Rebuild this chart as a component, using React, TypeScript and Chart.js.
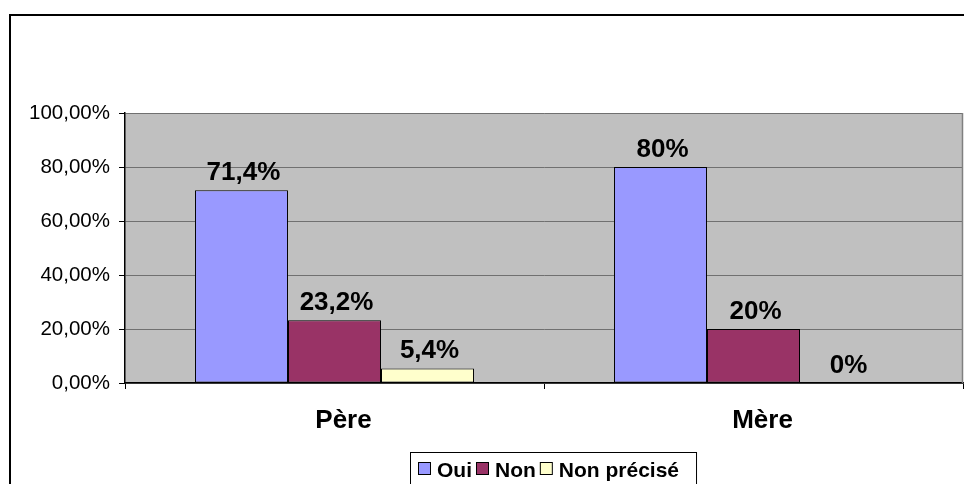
import React, { useEffect, useRef } from "react";
import { Chart, registerables } from "chart.js";

Chart.register(...registerables);

const categories = ["Père", "Mère"];
const seriesNames = ["Oui", "Non", "Non précisé"];
const oui = [71.4, 80];
const non = [23.2, 20];
const nonPrecise = [5.4, 0];
const yTicks = [0, 20, 40, 60, 80, 100];

const FONT = "'Liberation Sans', Arial, sans-serif";
const colors = ["#9999FF", "#993366", "#FFFFCC"];

const fmtLabel = (v: number) => String(v).replace(".", ",") + "%";
const fmtTick = (v: number) => v.toFixed(2).replace(".", ",") + "%";

const decorPlugin = {
  id: "decor",
  beforeDraw(chart: any) {
    const { ctx, chartArea: a } = chart;
    ctx.save();
    ctx.fillStyle = "#FFFFFF";
    ctx.fillRect(0, 0, chart.width, chart.height);
    ctx.fillStyle = "#C0C0C0";
    ctx.fillRect(a.left, a.top, a.right - a.left, a.bottom - a.top);
    ctx.restore();
  },
  afterDatasetsDraw(chart: any) {
    const { ctx, chartArea: a } = chart;
    ctx.save();
    // plot area right border
    ctx.strokeStyle = "#808080";
    ctx.lineWidth = 1.5;
    ctx.beginPath();
    ctx.moveTo(a.right - 0.5, a.top);
    ctx.lineTo(a.right - 0.5, a.bottom);
    ctx.stroke();
    // data labels
    ctx.fillStyle = "#000";
    ctx.font = "bold 26px " + FONT;
    ctx.textAlign = "center";
    ctx.textBaseline = "alphabetic";
    chart.data.datasets.forEach((ds: any, i: number) => {
      const meta = chart.getDatasetMeta(i);
      meta.data.forEach((bar: any, j: number) => {
        ctx.fillText(fmtLabel(ds.data[j]), bar.x + 2, bar.y - 10);
      });
    });
    ctx.restore();
  },
  afterDraw(chart: any) {
    const { ctx } = chart;
    ctx.save();
    // outer chart border
    ctx.strokeStyle = "#000";
    ctx.lineWidth = 2;
    ctx.strokeRect(10, 15, 1200, 1200);
    // legend
    ctx.font = "bold 21px " + FONT;
    ctx.textBaseline = "alphabetic";
    ctx.textAlign = "left";
    let x = 418;
    const boxLeft = 410;
    const top = 452;
    const datasets = chart.data.datasets;
    let lastEnd = x;
    datasets.forEach((ds: any) => {
      ctx.fillStyle = ds.backgroundColor;
      ctx.fillRect(x, 462, 12, 12);
      ctx.strokeStyle = "#000";
      ctx.lineWidth = 1;
      ctx.strokeRect(x + 0.5, 462.5, 12, 12);
      ctx.fillStyle = "#000";
      ctx.fillText(ds.label, x + 19, 476.5);
      const w = ctx.measureText(ds.label).width;
      lastEnd = x + 19 + w;
      x = lastEnd + 4;
    });
    const boxRight = lastEnd + 17;
    ctx.strokeStyle = "#000";
    ctx.lineWidth = 1;
    ctx.strokeRect(boxLeft + 0.5, top + 0.5, boxRight - boxLeft, 60);
    ctx.restore();
  },
};

export default function App() {
  const ref = useRef<HTMLCanvasElement | null>(null);
  useEffect(() => {
    if (!ref.current) return;
    const chart = new Chart(ref.current, {
      type: "bar",
      data: {
        labels: categories,
        datasets: [oui, non, nonPrecise].map((d, i) => ({
          label: seriesNames[i],
          data: d,
          backgroundColor: colors[i],
          borderColor: "#000",
          borderWidth: 1,
          borderSkipped: false,
          barPercentage: 1,
          categoryPercentage: 0.666,
        })),
      },
      options: {
        animation: false,
        responsive: false,
        devicePixelRatio: 1,
        events: [],
        layout: { padding: { top: 113, left: 0, right: 1, bottom: 0 } },
        plugins: { legend: { display: false }, tooltip: { enabled: false } },
        scales: {
          x: {
            afterFit: (s: any) => {
              s.height = 101;
            },
            grid: {
              drawOnChartArea: false,
              drawTicks: true,
              tickLength: 6,
              tickColor: "#000",
              offset: true,
            },
            border: { color: "#000", width: 1.5 },
            ticks: {
              color: "#000",
              font: { family: FONT, size: 26, weight: "bold" },
              padding: 16,
              labelOffset: 9,
            },
          },
          y: {
            min: 0,
            max: 100,
            afterFit: (s: any) => {
              s.width = 125;
            },
            afterBuildTicks: (s: any) => {
              s.ticks = yTicks.map((v) => ({ value: v }));
            },
            grid: {
              color: "#707070",
              lineWidth: 1,
              drawTicks: true,
              tickLength: 6,
              tickColor: "#000",
            },
            border: { color: "#000", width: 1.5 },
            ticks: {
              color: "#000",
              font: { family: FONT, size: 20.5 },
              padding: 9,
              callback: (v: any) => fmtTick(Number(v)),
            },
          },
        },
      },
      plugins: [decorPlugin],
    } as any);
    return () => chart.destroy();
  }, []);
  return (
    <div style={{ position: "absolute", left: 0, top: 0, width: 964, height: 484 }}>
      <canvas ref={ref} width={964} height={484} />
    </div>
  );
}
